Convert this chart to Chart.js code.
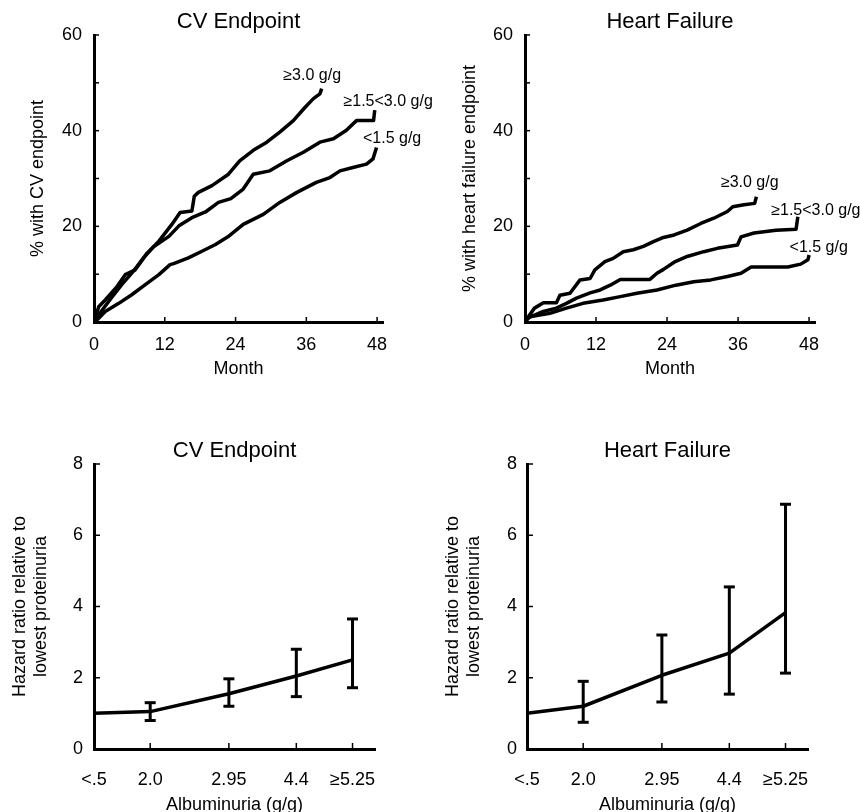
<!DOCTYPE html>
<html><head><meta charset="utf-8">
<script src="https://cdn.jsdelivr.net/npm/chart.js@4/dist/chart.umd.min.js"></script>
<style>
html,body{margin:0;padding:0;background:#fff;overflow:hidden;}
#wrap{position:relative;width:860px;height:812px;overflow:hidden;background:#fff;}
canvas{position:absolute;}
</style></head><body>
<div id="wrap">
<canvas id="c1" width="470" height="406" style="left:0px;top:0px"></canvas>
<canvas id="c2" width="430" height="406" style="left:430px;top:0px"></canvas>
<canvas id="c3" width="430" height="420" style="left:0px;top:406px"></canvas>
<canvas id="c4" width="430" height="420" style="left:430px;top:406px"></canvas>
</div>
<script>
// ---------- DATA ----------
// Kaplan-Meier curves, CV endpoint (month, % with event)
const cvHiMonths  = [0,0.8,1.9,3.9,5.3,7.0,9.0,11.0,13.2,14.6,16.6,17.0,17.7,20.0,22.8,24.7,27.0,29.3,31.5,33.8,35.8,37.2,38.3,38.6];
const cvHiPct     = [0,3.2,4.6,7.4,9.9,10.9,14.4,16.9,20.4,22.9,23.2,26.3,27.1,28.5,30.9,33.7,35.9,37.6,39.7,42.1,44.9,46.7,47.7,48.8];
const cvMidMonths = [0,1.4,3.1,4.7,6.4,8.4,10.1,12.7,14.4,16.6,18.9,21.1,23.2,25.3,27.0,29.8,32.7,35.5,38.3,40.6,42.8,44.5,47.4,47.6];
const cvMidPct    = [0,2.5,5.3,7.8,10.2,13.4,15.7,17.9,20.1,21.8,23.0,25.0,25.8,27.8,30.9,31.6,33.7,35.5,37.6,38.3,40.1,42.1,42.1,44.3];
const cvLoMonths  = [0,0.5,1.9,4.2,6.4,8.7,11.0,12.9,13.5,16.0,18.3,20.6,22.7,25.3,28.7,31.5,34.4,37.7,40.0,41.7,43.9,46.2,47.3,47.9];
const cvLoPct     = [0,0.4,2.2,3.9,5.7,7.8,9.9,12.0,12.2,13.4,14.8,16.2,17.8,20.4,22.5,25.0,27.1,29.2,30.2,31.6,32.3,33.0,34.1,36.5];
// Kaplan-Meier curves, heart failure endpoint
const hfHiMonths  = [0,0.8,1.6,3.1,5.3,5.9,7.6,9.3,11.0,11.8,13.5,14.9,16.6,18.3,20.0,21.7,23.2,25.2,27.4,29.7,31.9,34.2,35.1,37.0,38.8,39.1];
const hfHiPct     = [0,1.5,2.9,4.0,4.0,5.6,6.0,8.8,9.1,10.9,12.6,13.3,14.7,15.1,15.8,16.8,17.6,18.2,19.2,20.6,21.7,23.1,24.1,24.5,24.8,26.2];
const hfMidMonths = [0,0.2,3.1,5.3,7.0,8.7,11.0,12.7,14.4,16.1,21.1,22.3,23.4,25.2,27.4,30.2,32.5,35.9,36.5,38.7,42.4,45.8,46.1];
const hfMidPct    = [0,0.7,2.2,2.9,3.9,5.0,6.1,6.7,7.7,8.9,8.9,10.2,11.0,12.5,13.7,14.7,15.4,16.1,17.8,18.6,19.2,19.4,22.0];
const hfLoMonths  = [0,0.8,4.2,7.0,9.8,13.2,16.1,18.9,22.3,25.5,28.5,31.4,34.2,36.5,38.2,44.4,46.6,47.8,48.0];
const hfLoPct     = [0,1.1,1.8,2.9,3.9,4.6,5.3,6.0,6.7,7.7,8.4,8.8,9.5,10.2,11.5,11.5,12.1,13.0,14.0];
const groupLabels = ['\u22653.0 g/g','\u22651.5<3.0 g/g','<1.5 g/g'];
const monthTicks  = [0,12,24,36,48];
const pctTicksLabelled = [0,20,40,60];

// Hazard ratios by albuminuria
const albLabels = ['<.5','2.0','2.95','4.4','\u22655.25'];
const albAxisPos = [0,1,2.4,3.6,4.6];          // where each category sits on the (non-uniform) axis
const cvHR     = [1.0,1.05,1.55,2.05,2.5];
const cvHRLow  = [null,0.8,1.2,1.47,1.72];
const cvHRHigh = [null,1.3,1.97,2.8,3.65];
const hfHR     = [1.0,1.2,2.07,2.69,3.83];
const hfHRLow  = [null,0.75,1.32,1.54,2.13];
const hfHRHigh = [null,1.9,3.2,4.55,6.87];

// ---------- CHARTS ----------
Chart.defaults.font.family = "'Liberation Sans', Arial, Helvetica, sans-serif";
Chart.defaults.color = '#000';
const FONT = "'Liberation Sans', Arial, Helvetica, sans-serif";

function inwardTicksPlugin(len) {
  return { id:'inwardTicks', afterDatasetsDraw(chart){
    const ctx = chart.ctx, ca = chart.chartArea, xs = chart.scales.x, ys = chart.scales.y;
    ctx.save(); ctx.strokeStyle = '#000'; ctx.lineWidth = 1.5;
    ys.ticks.forEach(t => { if (t.value === ys.min) return;
      const p = ys.getPixelForValue(t.value); ctx.beginPath(); ctx.moveTo(ca.left, p); ctx.lineTo(ca.left + len, p); ctx.stroke(); });
    xs.ticks.forEach(t => { if (t.value === xs.min) return;
      const p = xs.getPixelForValue(t.value); ctx.beginPath(); ctx.moveTo(p, ca.bottom); ctx.lineTo(p, ca.bottom - len); ctx.stroke(); });
    ctx.restore();
  }};
}
function curveLabelPlugin(items) {
  return { id:'curveLabels', afterDatasetsDraw(chart){
    const ctx = chart.ctx; ctx.save(); ctx.fillStyle = '#000'; ctx.font = '16px ' + FONT;
    ctx.textAlign = 'left'; ctx.textBaseline = 'middle';
    items.forEach(it => ctx.fillText(it.text, chart.scales.x.getPixelForValue(it.x), chart.scales.y.getPixelForValue(it.y)));
    ctx.restore();
  }};
}
const axisBorder = {display:true, color:'#000', width:3};

function kmChart(id, title, yTitle, series, labels, L) {
  return new Chart(document.getElementById(id), {
    type: 'line',
    data: { datasets: series.map(s => ({
      data: s[0].map((m,i) => ({x:m, y:s[1][i]})),
      borderColor:'#000', borderWidth:3.5, pointRadius:0, tension:0, fill:false,
      borderJoinStyle:'round', borderCapStyle:'butt'
    })) },
    options: {
      responsive:false, animation:false, devicePixelRatio:1,
      layout:{padding:{left:0, right:L.padRight, top:0, bottom:0}},
      plugins:{
        legend:{display:false}, tooltip:{enabled:false},
        title:{display:true, text:title, fullSize:false, color:'#000', font:{size:22, weight:'normal'}, padding:{top:L.titleTop, bottom:0}}
      },
      scales:{
        x:{type:'linear', min:0, max:49,
          afterBuildTicks: s => { s.ticks = monthTicks.map(v => ({value:v})); },
          afterFit: s => { s.height = L.axisH; },
          grid:{display:false, drawTicks:false}, border:axisBorder,
          ticks:{color:'#000', font:{size:18}, padding:12, maxRotation:0, autoSkip:false, callback: v => String(v)},
          title:{display:true, text:'Month', color:'#000', font:{size:18}, padding:{top:0, bottom:L.xTitleBottom}}
        },
        y:{type:'linear', min:0, max:60,
          afterFit: s => { s.width = L.axisW; },
          grid:{display:false, drawTicks:false}, border:axisBorder,
          ticks:{stepSize:10, color:'#000', font:{size:18}, padding:L.yTickPad, autoSkip:false,
            callback: v => pctTicksLabelled.includes(v) ? String(v) : ''},
          title:{display:true, text:yTitle, color:'#000', font:{size:18}, padding:{top:L.yTitlePad, bottom:0}}
        }
      }
    },
    plugins:[inwardTicksPlugin(5), curveLabelPlugin(labels)]
  });
}

function hrChart(id, title, hr, lo, hi, L) {
  const line = hr.map((v,i) => ({x:albAxisPos[i], y:v}));
  const bars = [], caps = [];
  hr.forEach((v,i) => { if (lo[i] == null) return;
    bars.push({x:albAxisPos[i], y:lo[i]}, {x:albAxisPos[i], y:hi[i]}, {x:albAxisPos[i], y:null});
    caps.push({x:albAxisPos[i], y:lo[i]}, {x:albAxisPos[i], y:hi[i]});
  });
  return new Chart(document.getElementById(id), {
    type:'line',
    data:{ datasets:[
      {data:bars, borderColor:'#000', borderWidth:3, pointRadius:0, spanGaps:false, borderCapStyle:'butt'},
      {data:caps, showLine:false, pointStyle:'line', pointRadius:5.5, pointBorderWidth:3, pointBorderColor:'#000', borderColor:'#000'},
      {data:line, borderColor:'#000', borderWidth:3.5, pointRadius:0, tension:0, borderJoinStyle:'round'}
    ]},
    options:{
      responsive:false, animation:false, devicePixelRatio:1,
      layout:{padding:{left:0, right:L.padRight, top:0, bottom:0}},
      plugins:{
        legend:{display:false}, tooltip:{enabled:false},
        title:{display:true, text:title, fullSize:false, color:'#000', font:{size:22, weight:'normal'}, padding:{top:L.titleTop, bottom:0}}
      },
      scales:{
        x:{type:'linear', min:0, max:5,
          afterBuildTicks: s => { s.ticks = albAxisPos.map(v => ({value:v})); },
          afterFit: s => { s.height = L.axisH; },
          grid:{display:false, drawTicks:false}, border:axisBorder,
          ticks:{color:'#000', font:{size:18}, padding:L.xTickPad, maxRotation:0, autoSkip:false, callback:(v,i) => albLabels[i]},
          title:{display:true, text:'Albuminuria (g/g)', color:'#000', font:{size:18}, padding:{top:0, bottom:L.xTitleBottom}}
        },
        y:{type:'linear', min:0, max:8,
          afterFit: s => { s.width = L.axisW; },
          grid:{display:false, drawTicks:false}, border:axisBorder,
          ticks:{stepSize:2, color:'#000', font:{size:18}, padding:L.yTickPad, autoSkip:false},
          title:{display:true, text:['Hazard ratio relative to','lowest proteinuria'], color:'#000', font:{size:18}, padding:{top:L.yTitlePad, bottom:0}}
        }
      }
    },
    plugins:[inwardTicksPlugin(6)]
  });
}

kmChart('c1', 'CV Endpoint', '% with CV endpoint',
  [[cvHiMonths,cvHiPct],[cvMidMonths,cvMidPct],[cvLoMonths,cvLoPct]],
  [{text:groupLabels[0], x:32.1, y:51.5},{text:groupLabels[1], x:42.3, y:46.1},{text:groupLabels[2], x:45.6, y:38.3}],
  {axisW:94, axisH:84, padRight:87, titleTop:8.6, xTitleBottom:26, yTitlePad:27, yTickPad:12});
kmChart('c2', 'Heart Failure', '% with heart failure endpoint',
  [[hfHiMonths,hfHiPct],[hfMidMonths,hfMidPct],[hfLoMonths,hfLoPct]],
  [{text:groupLabels[0], x:33.1, y:29.1},{text:groupLabels[1], x:41.6, y:23.3},{text:groupLabels[2], x:44.7, y:15.5}],
  {axisW:95, axisH:84, padRight:45, titleTop:8.6, xTitleBottom:26, yTitlePad:29, yTickPad:12});
hrChart('c3', 'CV Endpoint', cvHR, cvHRLow, cvHRHigh,
  {axisW:94, axisH:77, padRight:55, titleTop:31.6, xTitleBottom:10, xTickPad:20, yTitlePad:9, yTickPad:11});
hrChart('c4', 'Heart Failure', hfHR, hfHRLow, hfHRHigh,
  {axisW:97, axisH:77, padRight:52, titleTop:31.6, xTitleBottom:10, xTickPad:20, yTitlePad:12, yTickPad:10});
</script>
</body></html>
